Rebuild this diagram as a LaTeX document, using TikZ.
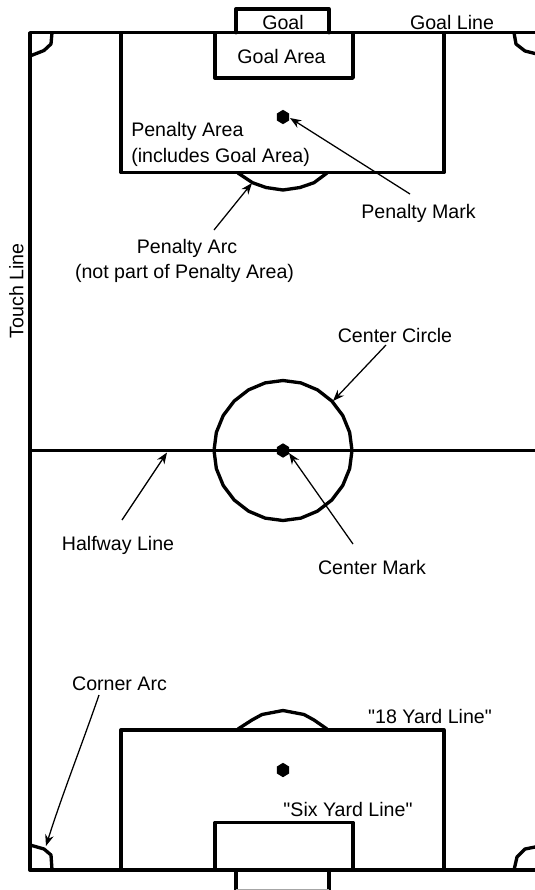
\documentclass[tikz,border=0pt]{standalone}
\usepackage{fontspec}
\newfontfamily\lblfont{Liberation Sans}
\usetikzlibrary{arrows.meta}
\tikzset{
  field/.style={line width=2.5pt,line join=round,line cap=round},
  pointer/.style={line width=0.95pt,-{Stealth[length=8.5pt,width=6.5pt]}},
  lbl/.style={inner sep=0pt,anchor=base,font=\lblfont\fontsize{14.7}{16}\selectfont},
  spot/.style={fill=black,draw=none}
}
\begin{document}
\begin{tikzpicture}[x=0.75pt,y=-0.75pt]
\useasboundingbox (0,0) rectangle (535,890);
\clip (0,0) rectangle (535,890);
% pitch
\draw[field] (545,32.7) -- (30,32.7) -- (30,870) -- (545,870);
\draw[field] (30,450.7) -- (545,450.7);
% top end
\draw[field] (121,32.7) -- (121,172.5) -- (444,172.5) -- (444,32.7);
\draw[field] (215,32.7) -- (215,78) -- (353,78) -- (353,32.7);
\draw[field] (236,32.7) -- (236,9) -- (329,9) -- (329,32.7);
\draw[field] (238,173) -- (252.5,182.7) -- (266,187.5) -- (283,190) -- (300,187.5) -- (314,182.7) -- (327,173);
% bottom end
\draw[field] (121,870) -- (121,730) -- (444,730) -- (444,870);
\draw[field] (215,870) -- (215,822.5) -- (353,822.5) -- (353,870);
\draw[field] (236,870) -- (236,891) (329,891) -- (329,870);
\draw[line width=1pt,black!35] (236,889.5) -- (329,889.5);
\draw[field] (238,729) -- (252,720) -- (262,714.5) -- (283,710.5) -- (304,714.5) -- (314,720) -- (327,729);
% corners
\draw[field] (52,32.7) -- (51,44) -- (44,50.5) -- (30,56);
\draw[field] (514,32.7) -- (516,44) -- (525,51) -- (545,56);
\draw[field] (30,845) -- (44,849) -- (51,855) -- (52,870);
\draw[field] (545,845) -- (525,849) -- (517,857) -- (514,870);
% centre circle
\draw[field] ({283+69*cos(0)},{450.5+70*sin(0)})
  \foreach \a in {15,30,...,345} { -- ({283+69*cos(\a)},{450.5+70*sin(\a)}) } -- cycle;
% marks
\foreach \n/\py in {penaltymark/117,centermark/450.5,lowermark/770} {
  \fill[spot] ({283+7*cos(30)},{\py+7*sin(30)})
    -- ({283},{\py+7.2}) -- ({283-7*cos(30)},{\py+7*sin(30)})
    -- ({283-7*cos(30)},{\py-7*sin(30)}) -- ({283},{\py-7.2})
    -- ({283+7*cos(30)},{\py-7*sin(30)}) -- cycle;
}
% labels
\node[lbl] (goal) at (283,29) {Goal};
\node[lbl] (goalline) at (452,29) {Goal Line};
\node[lbl] (goalarea) at (281.5,63) {Goal Area};
\node[lbl,anchor=base west] (penarea) at (131,136) {Penalty Area};
\node[lbl,anchor=base west] (penincl) at (131,162) {(includes Goal Area)};
\node[lbl] (penmark) at (418.5,218) {Penalty Mark};
\node[lbl] (penarc) at (187,253) {Penalty Arc};
\node[lbl] (penarcb) at (184.5,278) {(not part of Penalty Area)};
\node[lbl,rotate=90] (touch) at (23.5,291) {Touch Line};
\node[lbl] (ccircle) at (395,342) {Center Circle};
\node[lbl] (halfway) at (118,550) {Halfway Line};
\node[lbl] (cmark) at (372,574) {Center Mark};
\node[lbl] (corner) at (119.5,690) {Corner Arc};
\node[lbl] (eighteen) at (430,723) {"18 Yard Line"};
\node[lbl] (six) at (348,816) {"Six Yard Line"};
% targets
\coordinate (tmark) at (290,118);
\coordinate (tarc) at (252,183);
\coordinate (tcircle) at (333,401);
\coordinate (tcmark) at (289,453);
\coordinate (thalf) at (167,452.5);
\coordinate (tcorner) at (46,846);
% pointers
\draw[pointer] (410,194) -- (tmark);
\draw[pointer] (214,230) -- (tarc);
\draw[pointer] (386,345) -- (tcircle);
\draw[pointer] (353,544) -- (tcmark);
\draw[pointer] (122,520) -- (thalf);
\draw[pointer] (99,695) .. controls (80,750) and (62,795) .. (tcorner);
\end{tikzpicture}
\end{document}
